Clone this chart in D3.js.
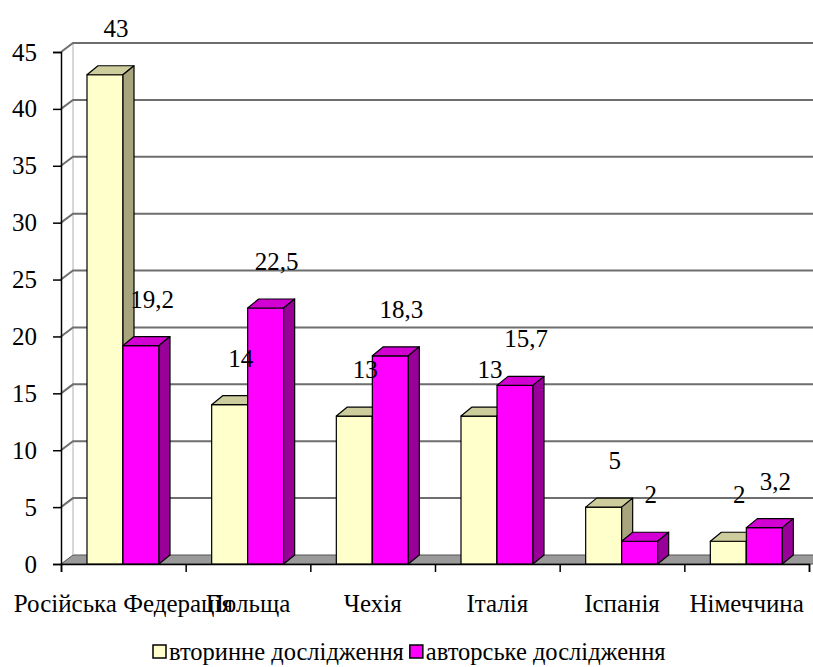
<!DOCTYPE html>
<html>
<head>
<meta charset="utf-8">
<script src="https://cdn.jsdelivr.net/npm/d3@7"></script>
<style>
  html, body { margin: 0; padding: 0; background: #fff; }
  svg { display: block; }
</style>
</head>
<body>
<svg id="chart" width="813" height="667"></svg>
<script>
// Countries on the horizontal axis
const categories = ["Російська Федерація", "Польща", "Чехія", "Італія", "Іспанія", "Німеччина"];
// Series names (legend)
const seriesNames = ["вторинне дослідження", "авторське дослідження"];
// Values for each series, one per country
const secondaryValues = [43, 14, 13, 13, 5, 2];
const authorValues = [19.2, 22.5, 18.3, 15.7, 2, 3.2];
// Value-axis ticks
const yTicks = [0, 5, 10, 15, 20, 25, 30, 35, 40, 45];

const FONT = "Liberation Serif";

const svg = d3.select("#chart");

// plot frame (front plane) and 3D depth offset
const x0 = 61, x1 = 809, yBase = 564, yTop = 52;
const depthX = 12, depthY = -9;
const barDX = 11, barDY = -9;

const y = d3.scaleLinear().domain([0, 45]).range([yBase, yTop]);
const x = d3.scaleBand().domain(categories).range([x0, x1]).paddingInner(0).paddingOuter(0);
const xEdge = d3.scaleLinear().domain([0, categories.length]).range([x0, x1]);

const seriesColors = [
  { front: "#ffffcc", top: "#cccc9c", side: "#a8a47e" },
  { front: "#ff00ff", top: "#d200d2", side: "#990099" }
];

// floor
svg.append("path")
  .attr("d", `M${x0},${yBase} L${813},${yBase} L${813 + depthX},${yBase + depthY} L${x0 + depthX},${yBase + depthY} Z`)
  .attr("fill", "#9a9a9a").attr("stroke", "#555").attr("stroke-width", 1);

// back wall left edge
svg.append("line")
  .attr("x1", x0 + depthX).attr("x2", x0 + depthX)
  .attr("y1", y(0) + depthY).attr("y2", y(45) + depthY)
  .attr("stroke", "#b0b0b0").attr("stroke-width", 1);

// gridlines on the back wall, joined to the front axis by a short diagonal
const grid = svg.append("g");
yTicks.filter(t => t > 0).forEach(t => {
  grid.append("path")
    .attr("d", `M${x0},${y(t)} L${x0 + depthX},${y(t) + depthY} L${813},${y(t) + depthY}`)
    .attr("fill", "none").attr("stroke", "#6e6e6e").attr("stroke-width", 2);
});

// bars
const data = categories.map((c, i) => ({ c, vals: [secondaryValues[i], authorValues[i]] }));
const bw = 36, gap = 26;
const bars = svg.append("g");
data.forEach(d => {
  d.vals.forEach((v, s) => {
    const bx = x(d.c) + gap + s * bw;
    const by = y(v);
    const col = seriesColors[s];
    const g = bars.append("g").attr("stroke", "#000").attr("stroke-width", 1.2).attr("stroke-linejoin", "round");
    g.append("rect").attr("x", bx).attr("y", by).attr("width", bw).attr("height", yBase - by).attr("fill", col.front);
    g.append("path")
      .attr("d", `M${bx},${by} L${bx + barDX},${by + barDY} L${bx + bw + barDX},${by + barDY} L${bx + bw},${by} Z`)
      .attr("fill", col.top);
    g.append("path")
      .attr("d", `M${bx + bw},${by} L${bx + bw + barDX},${by + barDY} L${bx + bw + barDX},${yBase + barDY} L${bx + bw},${yBase} Z`)
      .attr("fill", col.side);
  });
});

// value labels
const labels = svg.append("g").attr("text-anchor", "middle");
data.forEach(d => {
  d.vals.forEach((v, s) => {
    const bx = x(d.c) + gap + s * bw;
    labels.append("text")
      .attr("font-family", FONT).attr("font-size", 25).attr("fill", "#000")
      .attr("x", bx + bw / 2 + 11)
      .attr("y", y(v) - 38)
      .text(String(v).replace(".", ","));
  });
});

// value axis
const yAxis = svg.append("g")
  .attr("transform", `translate(${x0},0)`)
  .call(d3.axisLeft(y).tickValues(yTicks).tickSize(8).tickPadding(16).tickFormat(d3.format("d")));
yAxis.select(".domain").attr("stroke", "#000").attr("stroke-width", 1.5);
yAxis.selectAll(".tick line").attr("stroke", "#000").attr("stroke-width", 1.5);
yAxis.selectAll("text").attr("font-family", FONT).attr("font-size", 25).attr("fill", "#000");

// category axis: boundary ticks
const xTickAxis = svg.append("g")
  .attr("transform", `translate(0,${yBase})`)
  .call(d3.axisBottom(xEdge).tickValues(d3.range(categories.length + 1)).tickSize(8).tickFormat(""));
xTickAxis.select(".domain").attr("stroke", "#000").attr("stroke-width", 1.5);
xTickAxis.selectAll(".tick line").attr("stroke", "#000").attr("stroke-width", 1.5);

// category labels
const xLabelAxis = svg.append("g")
  .attr("transform", `translate(0,${yBase})`)
  .call(d3.axisBottom(x).tickSize(0).tickPadding(30));
xLabelAxis.select(".domain").remove();
xLabelAxis.selectAll("text").attr("font-family", FONT).attr("font-size", 25).attr("fill", "#000");

// legend
const legend = svg.append("g");
let lx = 153;
seriesNames.forEach((name, s) => {
  legend.append("rect").attr("x", lx).attr("y", 645).attr("width", 13).attr("height", 13)
    .attr("fill", seriesColors[s].front).attr("stroke", "#000").attr("stroke-width", 1.5);
  const t = legend.append("text").attr("x", lx + 16).attr("y", 660)
    .attr("font-family", FONT).attr("font-size", 24.5).attr("fill", "#000").text(name);
  lx += 16 + t.node().getComputedTextLength() + 6;
});
</script>
</body>
</html>
